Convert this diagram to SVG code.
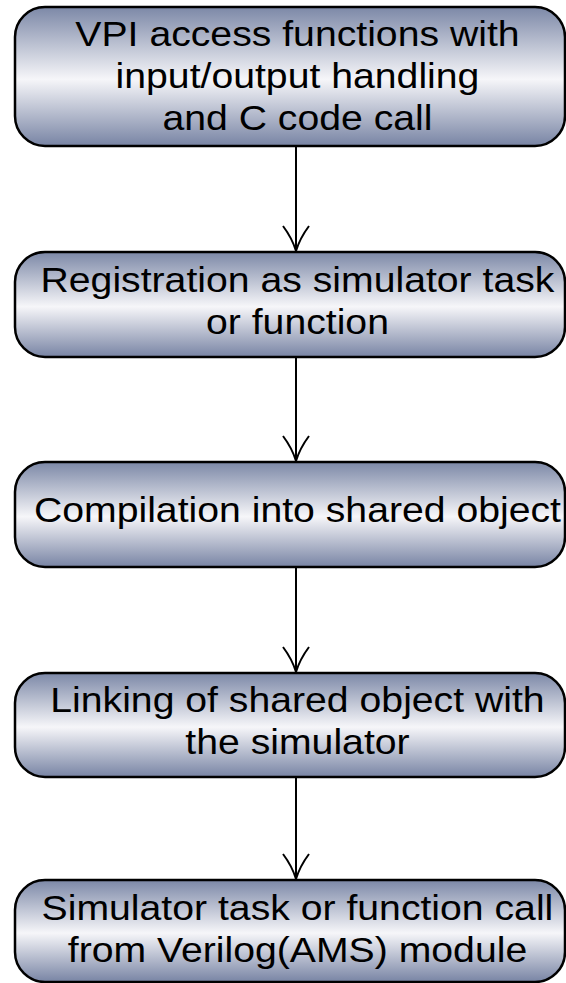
<svg xmlns="http://www.w3.org/2000/svg" width="566" height="983" viewBox="0 0 566 983">
  <defs>
    <linearGradient id="g" x1="0" y1="0" x2="0" y2="1">
      <stop offset="0" stop-color="#7c88a7"/>
      <stop offset="0.52" stop-color="#f6f6f9"/>
      <stop offset="1" stop-color="#7884a4"/>
    </linearGradient>
    <style>
      .box { fill: url(#g); stroke: #000; stroke-width: 2.5; }
      .lbl { font-family: "Liberation Sans", Arial, sans-serif; font-size: 35px; fill: #000; text-anchor: middle; }
      .conn { stroke: #000; stroke-width: 2; fill: none; }
    </style>
  </defs>
  <rect width="566" height="983" fill="#fff"/>

  <g id="connectors">
    <path class="conn" d="M296,146 V251 M283,226 Q292,238 296,251 M309,226 Q300,238 296,251"/>
    <path class="conn" d="M296,357 V461 M283,436 Q292,448 296,461 M309,436 Q300,448 296,461"/>
    <path class="conn" d="M296,567 V672 M283,647 Q292,659 296,672 M309,647 Q300,659 296,672"/>
    <path class="conn" d="M296,777 V879 M283,854 Q292,866 296,879 M309,854 Q300,866 296,879"/>
  </g>

  <g id="node1">
    <rect class="box" x="15" y="7" width="550" height="139" rx="30" ry="30"/>
    <g transform="scale(1.12 1)">
      <text class="lbl" x="265.6" y="46">VPI access functions with</text>
      <text class="lbl" x="265.6" y="88">input/output handling</text>
      <text class="lbl" x="265.6" y="130">and C code call</text>
    </g>
  </g>

  <g id="node2">
    <rect class="box" x="15" y="252" width="550" height="105" rx="30" ry="30"/>
    <g transform="scale(1.12 1)">
      <text class="lbl" x="265.6" y="292">Registration as simulator task</text>
      <text class="lbl" x="265.6" y="334">or function</text>
    </g>
  </g>

  <g id="node3">
    <rect class="box" x="15" y="462" width="550" height="105" rx="30" ry="30"/>
    <g transform="scale(1.12 1)">
      <text class="lbl" x="265.6" y="522">Compilation into shared object</text>
    </g>
  </g>

  <g id="node4">
    <rect class="box" x="15" y="673" width="550" height="104" rx="30" ry="30"/>
    <g transform="scale(1.12 1)">
      <text class="lbl" x="265.6" y="712">Linking of shared object with</text>
      <text class="lbl" x="265.6" y="754">the simulator</text>
    </g>
  </g>

  <g id="node5">
    <rect class="box" x="15" y="880" width="550" height="102" rx="30" ry="30"/>
    <g transform="scale(1.12 1)">
      <text class="lbl" x="265.6" y="920">Simulator task or function call</text>
      <text class="lbl" x="265.6" y="962">from Verilog(AMS) module</text>
    </g>
  </g>
</svg>
